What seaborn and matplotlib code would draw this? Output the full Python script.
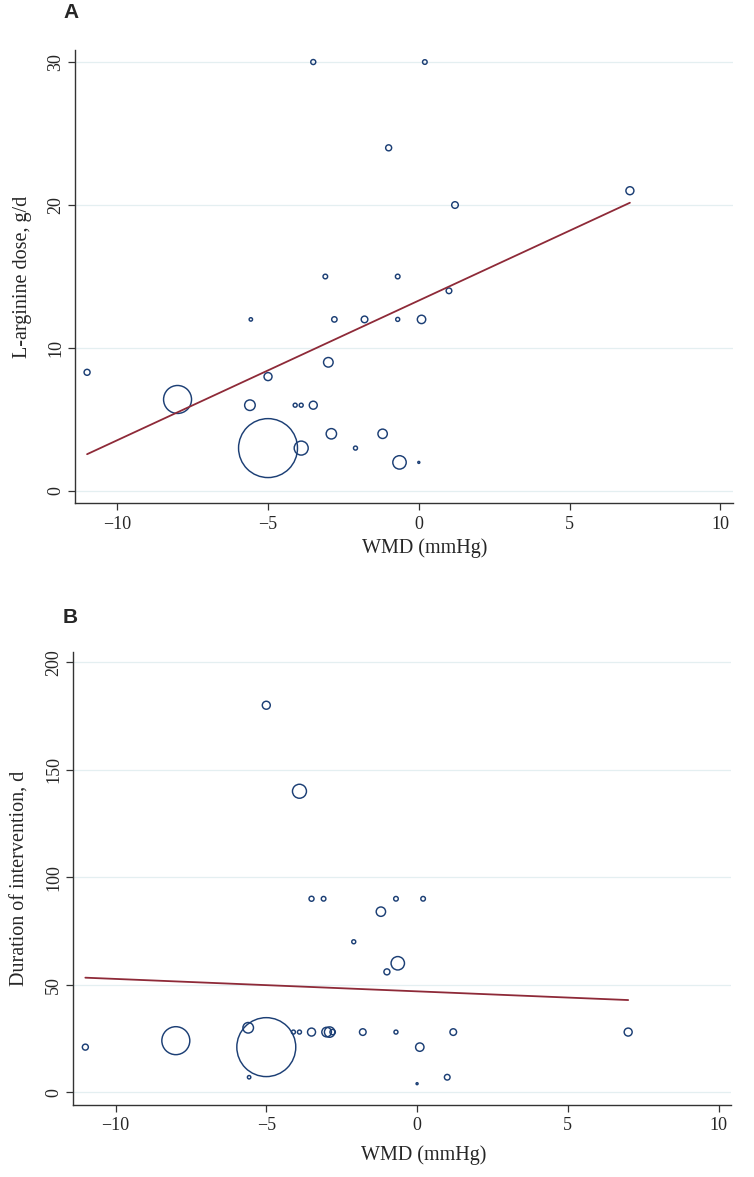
import numpy as np
import pandas as pd
import matplotlib
matplotlib.use("Agg")
import matplotlib.pyplot as plt
import seaborn as sns

# Study-level values
wmd = [-3.5, 0.2, -3.1, -1.0, 1.2, 7.0, -0.7, 1.0, -11.0, -8.0,
       -5.57, -2.8, -1.8, -0.7, 0.09, -3.0, -5.0, -5.6, -4.1, -3.9,
       -3.5, -5.0, -3.9, -2.9, -2.1, -1.2, -0.64, 0.0]
dose = [30, 30, 15, 24, 20, 21, 15, 14, 8.3, 6.4,
        12, 12, 12, 12, 12, 9, 8, 6, 6, 6,
        6, 3, 3, 4, 3, 4, 2, 2]
duration = [90, 90, 90, 56, 28, 28, 90, 7, 21, 24,
            7, 28, 28, 28, 21, 28, 180, 30, 28, 28,
            28, 21, 140, 28, 70, 84, 60, 4]
weight = [6.3, 5.3, 5.3, 9, 11, 16, 5.3, 8, 9, 196,
          2.9, 7.3, 11, 4, 17.6, 23, 16, 28, 4, 4,
          16, 870, 49, 27, 4, 22, 45, 1]

# meta-regression fit lines (intercept, slope)
fit_dose = (13.32, 0.977)
fit_duration = (46.94, -0.578)

df = pd.DataFrame({"wmd": wmd, "dose": dose, "duration": duration, "weight": weight})

navy = "#1c3f75"
maroon = "#8e2a38"
grid_col = "#e4eff1"
axis_col = "#333333"

sns.set_style("white")
plt.rcParams["font.family"] = ["Liberation Serif", "DejaVu Serif"]

fig = plt.figure(figsize=(7.54, 11.77), dpi=100)
ax_a = fig.add_axes([0.0995, 0.5724, 0.8727, 0.3851])
ax_b = fig.add_axes([0.0972, 0.0612, 0.8727, 0.3851])

panels = [
    (ax_a, "dose", fit_dose, "L-arginine dose, g/d", [0, 10, 20, 30], (-0.86, 30.84), -0.078),
    (ax_b, "duration", fit_duration, "Duration of intervention, d", [0, 50, 100, 150, 200], (-5.9, 204.9), -0.09),
]

wmax = max(weight)
for ax, col, fit, ylab, yticks, ylim, xlab_y in panels:
    sns.scatterplot(data=df, x="wmd", y=col, size="weight", sizes=(0, 2.07 * wmax),
                    size_norm=(0, wmax), facecolor="none", edgecolor=navy, color=navy,
                    linewidth=1.05, legend=False, ax=ax, zorder=3)
    for coll in ax.collections:
        coll.set_facecolor("none")
    xs = np.array([min(wmd), max(wmd)])
    line = pd.DataFrame({"x": xs, "y": fit[0] + fit[1] * xs})
    sns.lineplot(data=line, x="x", y="y", color=maroon, linewidth=1.3, ax=ax, zorder=4)

    ax.set_xlim(-11.4, 10.42)
    ax.set_ylim(*ylim)
    ax.set_xticks([-10, -5, 0, 5, 10])
    ax.set_yticks(yticks)
    ax.yaxis.grid(True, color=grid_col, linewidth=0.9)
    ax.xaxis.grid(False)
    ax.set_axisbelow(True)
    for s in ["top", "right"]:
        ax.spines[s].set_visible(False)
    for s in ["left", "bottom"]:
        ax.spines[s].set_color(axis_col)
        ax.spines[s].set_linewidth(1.0)
    ax.tick_params(axis="both", direction="out", length=5, width=0.9, color=axis_col,
                   labelsize=13, pad=4, left=True, bottom=True)
    ax.tick_params(axis="y", pad=3)
    for lab in ax.get_yticklabels():
        lab.set_rotation(90)
        lab.set_va("center")
        lab.set_ha("right")
    ax.set_xlabel("WMD (mmHg)", fontsize=14.5)
    ax.set_ylabel(ylab, fontsize=14.5)
    ax.xaxis.set_label_coords(0.532, xlab_y)
    ax.yaxis.set_label_coords(-0.066, 0.5)

fig.text(63 / 754, 1 - 17.5 / 1177, "A", fontsize=15, fontweight="bold",
         family="Liberation Sans", va="baseline")
fig.text(63 / 754, 1 - 622.7 / 1177, "B", fontsize=15, fontweight="bold",
         family="Liberation Sans", va="baseline")

fig.savefig("out.png", dpi=100, facecolor="white")
